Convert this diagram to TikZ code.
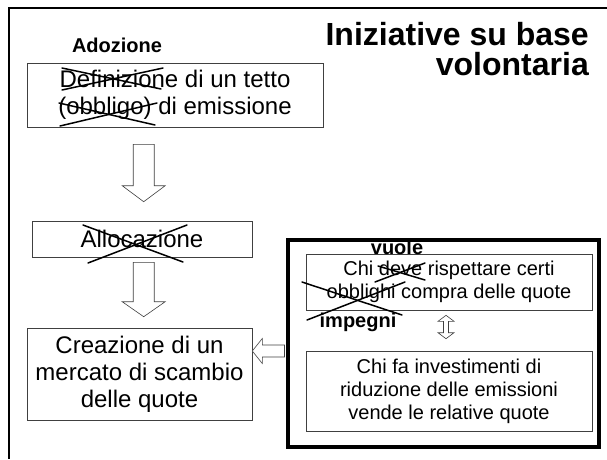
\documentclass[tikz,border=0pt]{standalone}
\usepackage{fontspec}
\setmainfont{Liberation Sans}
\usetikzlibrary{calc, positioning}

% hollow block arrow: from, to, shaft half width, head half width, head length
\newcommand{\blockarrow}[5]{%
  \draw[blockstyle] let \p1=($(#2)-(#1)$), \n1={veclen(\x1,\y1)}, \n2={atan2(\y1,\x1)} in
    [shift={(#1)}, rotate=\n2]
    (0pt,-#3pt) -- ({\n1-#5pt},-#3pt) -- ({\n1-#5pt},-#4pt) -- (\n1,0pt)
    -- ({\n1-#5pt},#4pt) -- ({\n1-#5pt},#3pt) -- (0pt,#3pt) -- cycle;}
% same, with a head at both ends
\newcommand{\twinarrow}[5]{%
  \draw[blockstyle] let \p1=($(#2)-(#1)$), \n1={veclen(\x1,\y1)}, \n2={atan2(\y1,\x1)} in
    [shift={(#1)}, rotate=\n2]
    (0pt,0pt) -- (#5pt,#4pt) -- (#5pt,#3pt) -- ({\n1-#5pt},#3pt) -- ({\n1-#5pt},#4pt)
    -- (\n1,0pt) -- ({\n1-#5pt},-#4pt) -- ({\n1-#5pt},-#3pt) -- (#5pt,-#3pt) -- (#5pt,-#4pt) -- cycle;}

\begin{document}
\begin{tikzpicture}[
    x=1pt, y=-1pt,
    box/.style={rectangle, draw=black!75, fill=white, line width=0.6pt, align=center, inner sep=0pt, font=\fontsize{24}{27}\selectfont},
    smallbox/.style={box, font=\fontsize{20}{23}\selectfont},
    note/.style={inner sep=0pt, font=\bfseries\fontsize{20}{22}\selectfont},
    strike/.style={line width=1.5pt, line cap=round},
    blockstyle/.style={draw=black!75, fill=white, line width=0.6pt}
]
\useasboundingbox (0,0) rectangle (607,459);

% Slide frame
\draw[line width=2pt] (607,8) -- (9,8) -- (9,459);

% Title
\node[anchor=east, align=right, inner sep=0pt, font=\bfseries\fontsize{32}{30}\selectfont] (title) at (589,49) {Iniziative su base\\volontaria};

% Left chain
\node[note] (adoz) at (117,45) {Adozione};
\node[box, minimum width=296pt, minimum height=64pt] (tetto) at (175,95) {Definizione di un tetto\\(obbligo) di emissione};
\node[box, minimum width=220pt, minimum height=36pt] (alloc) at (142,239) {Allocazione};
\node[box, minimum width=225pt, minimum height=92pt] (mercato) at (139.5,374) {Creazione di un\\mercato di scambio\\delle quote};

% Market participants
\node[draw=black, line width=3.5pt, minimum width=311pt, minimum height=207pt] (scambio) at (443.5,343.5) {};
\node[smallbox, minimum width=286pt, minimum height=56pt] (compra) at (449,282) {Chi deve rispettare certi\\obblighi compra delle quote};
\node[smallbox, minimum width=286pt, minimum height=80pt] (vende) at (449,391) {Chi fa investimenti di\\riduzione delle emissioni\\vende le relative quote};
\node[note] (vuole) at (397,247) {vuole};
\node[note] (impegni) at (358,322) {impegni};

% Crossed out words
\draw[strike] (62,68) -- (161,89);
\draw[strike] (62,90) -- (163,68);
\draw[strike] (59,103) -- (155,125);
\draw[strike] (60,126) -- (157,103);
\draw[strike] (83,225) -- (183,262);
\draw[strike] (88,263) -- (187,225);
\draw[strike] (378,266) -- (425,280);
\draw[strike] (375,282) -- (425,263);
\draw[strike] (302,282) -- (402,315);
\draw[strike] (307,320) -- (405,282);

% Block arrows
\coordinate (a1s) at ($(tetto.south west)+(117,17)$);
\coordinate (a1e) at ($(alloc.north west)+(112,-19)$);
\coordinate (a2s) at ($(alloc.south west)+(112,5)$);
\coordinate (a2e) at ($(mercato.north west)+(117,-11)$);
\coordinate (a3s) at ($(scambio.west)+(-1.75,7.5)$);
\coordinate (a3e) at (mercato.east |- a3s);
\coordinate (a4s) at ($(compra.south)+(-3,5)$);
\coordinate (a4e) at ($(vende.north)+(-3,-12)$);
\blockarrow{a1s}{a1e}{10.5}{21.5}{16}
\blockarrow{a2s}{a2e}{10.5}{21.5}{15}
\blockarrow{a3s}{a3e}{6}{12.5}{10}
\twinarrow{a4s}{a4e}{2.5}{8}{6}

\end{tikzpicture}
\end{document}
